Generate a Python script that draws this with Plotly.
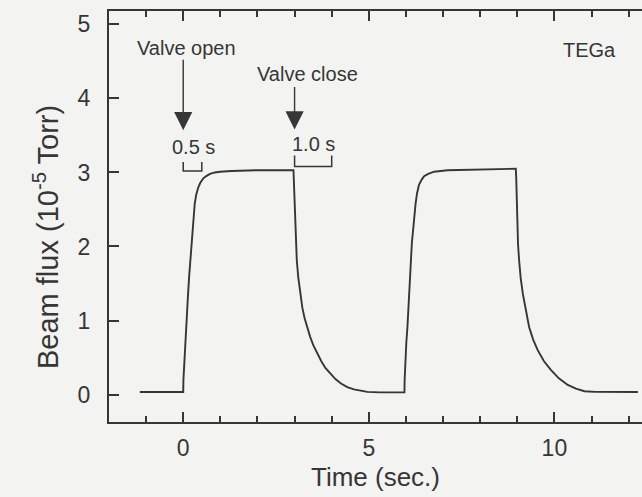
import plotly.graph_objects as go

# ---- data (time in s, beam flux in 1e-5 Torr) ----
time_s = [-1.17, 0.00, 0.005, 0.03, 0.07, 0.10, 0.13, 0.16, 0.19, 0.22, 0.25, 0.28, 0.31, 0.35, 0.40,
          0.46, 0.54, 0.62, 0.72, 0.85, 0.99, 1.30, 2.00, 2.97,
          2.98, 2.99, 3.00, 3.02, 3.04, 3.06, 3.10, 3.15, 3.21, 3.27, 3.34, 3.42, 3.51, 3.61, 3.72,
          3.83, 3.96, 4.10, 4.25, 4.42, 4.60, 4.78, 4.96, 5.30, 5.95,
          5.96, 5.965, 5.98, 6.01, 6.04, 6.08, 6.13, 6.16, 6.20, 6.23, 6.26, 6.30, 6.35, 6.42, 6.49,
          6.60, 6.76, 7.12, 8.00, 8.96,
          8.97, 8.98, 8.99, 9.00, 9.02, 9.05, 9.09, 9.15, 9.23, 9.32, 9.43, 9.55, 9.72, 9.91, 10.12,
          10.36, 10.58, 10.81, 11.10, 11.60, 12.25]
flux = [0.035, 0.035, 0.20, 0.45, 0.91, 1.15, 1.36, 1.60, 1.81, 2.04, 2.26, 2.44, 2.58, 2.70, 2.79,
        2.86, 2.92, 2.95, 2.98, 3.00, 3.01, 3.02, 3.03, 3.03,
        2.90, 2.71, 2.50, 2.26, 2.03, 1.81, 1.58, 1.36, 1.17, 1.03, 0.91, 0.78, 0.66, 0.55, 0.45,
        0.36, 0.28, 0.21, 0.15, 0.10, 0.07, 0.05, 0.037, 0.030, 0.027,
        0.030, 0.20, 0.46, 0.70, 0.91, 1.35, 1.81, 2.05, 2.26, 2.44, 2.58, 2.72, 2.83, 2.90, 2.95,
        2.98, 3.01, 3.03, 3.04, 3.05,
        2.95, 2.76, 2.50, 2.26, 2.03, 1.81, 1.58, 1.36, 1.12, 0.91, 0.74, 0.60, 0.45, 0.33, 0.22,
        0.13, 0.08, 0.045, 0.037, 0.035, 0.035]

x_ticks = [0, 5, 10]
y_ticks = [0, 1, 2, 3, 4, 5]

ink = "#363636"
bg = "#f3f3f1"
font_family = "Liberation Sans, Arial, Helvetica, sans-serif"

fig = go.Figure()
fig.add_trace(go.Scatter(x=time_s, y=flux, mode="lines",
                         line=dict(color=ink, width=1.9), hoverinfo="skip",
                         showlegend=False))

# brackets marking 0.5 s and 1.0 s intervals
fig.add_shape(type="path", xref="x", yref="y",
              path="M 0,3.14 L 0,3.02 L 0.5,3.02 L 0.5,3.14",
              line=dict(color=ink, width=1.5))
fig.add_shape(type="path", xref="x", yref="y",
              path="M 3.0,3.23 L 3.0,3.08 L 4.0,3.08 L 4.0,3.23",
              line=dict(color=ink, width=1.5))

tf = dict(family=font_family, size=20, color=ink)
ann = [
    dict(x=0.1, y=4.68, text="Valve open", showarrow=False, font=tf),
    dict(x=3.35, y=4.33, text="Valve close", showarrow=False, font=tf),
    dict(x=0.28, y=3.34, text="0.5 s", showarrow=False, font=tf),
    dict(x=3.5, y=3.39, text="1.0 s", showarrow=False, font=tf),
    dict(x=10.95, y=4.65, text="TEGa", showarrow=False, font=tf),
    dict(x=0, y=3.57, ax=0, ay=-72, text="", showarrow=True, arrowhead=2,
         arrowsize=2.6, arrowwidth=1.4, arrowcolor=ink),
    dict(x=3.0, y=3.58, ax=0, ay=-44, text="", showarrow=True, arrowhead=2,
         arrowsize=2.6, arrowwidth=1.4, arrowcolor=ink),
]
for a in ann:
    a.update(xref="x", yref="y")
    fig.add_annotation(**a)

# y-axis title placed as rotated text (matches the reference's position)
fig.add_annotation(xref="paper", yref="paper", x=(46 - 109) / 533, y=(422 - 237) / 411,
                   text="Beam flux (10<sup>-5</sup> Torr)", textangle=-90, showarrow=False,
                   xanchor="center", yanchor="middle",
                   font=dict(family=font_family, size=29, color=ink))

fig.update_layout(
    width=642, height=497,
    margin=dict(l=109, r=0, t=11, b=75),
    paper_bgcolor=bg, plot_bgcolor=bg,
    font=dict(family=font_family, color=ink),
    showlegend=False,
)
fig.update_xaxes(
    range=[-2.0, 12.36], tickvals=x_ticks, ticks="inside", ticklen=10, tickwidth=1.5,
    tickcolor=ink, showline=True, linewidth=2, linecolor=ink, mirror="ticks",
    showgrid=False, zeroline=False, tickfont=dict(size=23, color=ink), ticklabelstandoff=4,
    minor=dict(dtick=1, tick0=0, ticks="inside", ticklen=6, tickwidth=1.5, tickcolor=ink, showgrid=False),
    title=dict(text="Time (sec.)", font=dict(size=26, color=ink), standoff=8),
)
fig.update_yaxes(
    range=[-0.37, 5.18], tickvals=y_ticks, ticks="inside", ticklen=10, tickwidth=1.5,
    tickcolor=ink, showline=True, linewidth=2, linecolor=ink, mirror=False,
    showgrid=False, zeroline=False, tickfont=dict(size=23, color=ink), ticklabelstandoff=12,
)

fig.write_html("out.html")
